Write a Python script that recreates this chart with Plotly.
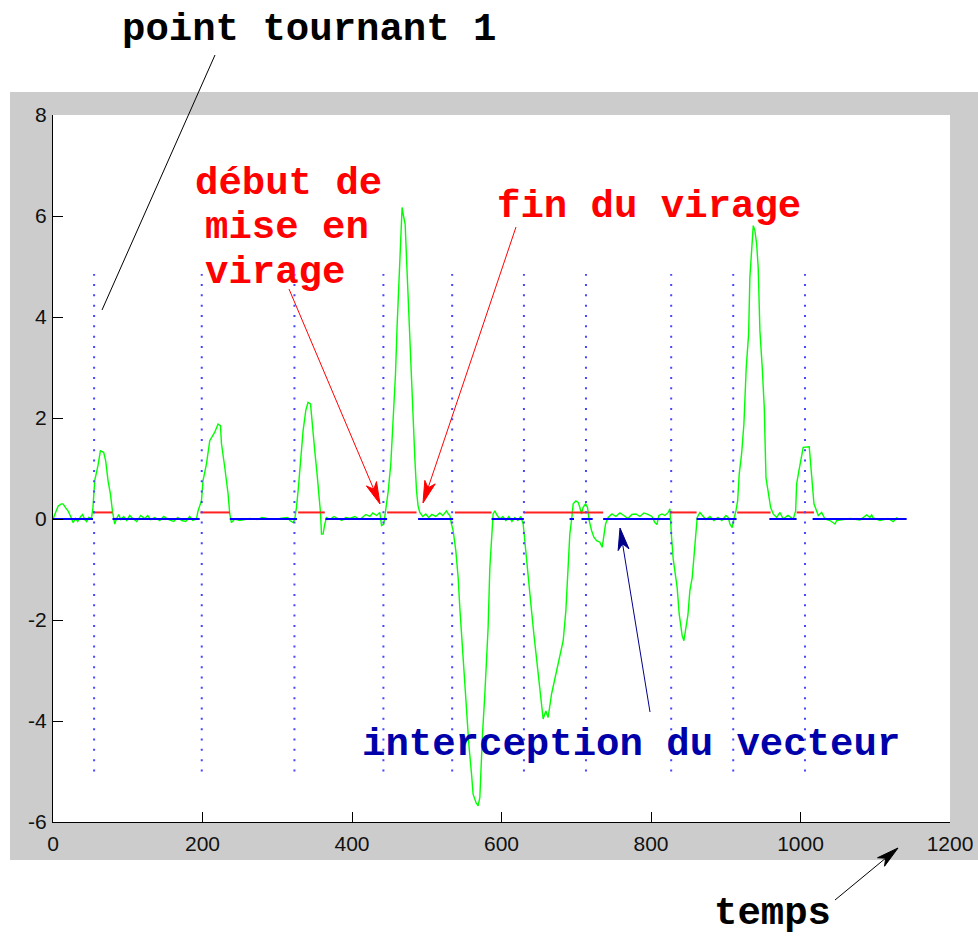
import math
import plotly.graph_objects as go

# ---------------- data ----------------
green_t = [
    0, 3.6, 7.0, 11.2, 13.4, 17.0, 20.1, 23.7, 26.8, 30.4,
    33.1, 37.1, 39.7, 42.4, 45.1, 47.8, 51.4, 53.5, 55.8, 60.2,
    63.4, 67.8, 70.5, 73.6, 76.8, 79.5, 82.6, 84.8, 87.9, 90.6,
    94.6, 98.6, 102.6, 106.7, 112.0, 117.4, 122.7, 126.7, 130.7, 136.1,
    142.8, 148.1, 154.8, 161.5, 166.9, 172.2, 177.6, 182.9, 186.9, 191.9,
    194.0, 198.6, 200.7, 205.3, 209.7, 216.4, 220.8, 224.0, 225.4, 229.8,
    234.2, 236.5, 238.7, 243.2, 249.8, 263.2, 273.9, 279.3, 290.0, 303.4,
    314.1, 316.8, 321.2, 323.4, 325.7, 327.9, 331.1, 334.6, 338.2, 341.2,
    344.5, 346.6, 350.2, 353.3, 356.0, 357.8, 359.2, 361.3, 363.6, 365.9,
    370.3, 375.7, 381.0, 386.4, 391.7, 397.1, 403.8, 410.5, 418.5, 423.9,
    427.9, 432.8, 437.2, 439.5, 442.5, 445.2, 448.3, 451.9, 455.0, 458.2,
    460.3, 462.6, 464.9, 467.0, 469.3, 471.1, 472.9, 474.7, 477.4, 479.6,
    481.8, 484.0, 486.3, 488.4, 490.7, 494.7, 498.7, 502.7, 506.8, 512.1,
    517.5, 521.5, 526.4, 528.9, 530.9, 533.1, 535.3, 538.9, 542.0, 544.2,
    546.5, 548.7, 551.0, 553.2, 556.3, 559.9, 562.0, 565.7, 568.7, 571.0,
    572.4, 574.6, 577.7, 580.0, 582.1, 584.4, 586.7, 588.8, 591.1, 594.2,
    597.8, 601.8, 605.8, 609.9, 613.9, 617.9, 621.9, 625.9, 629.0, 631.3,
    634.3, 637.0, 640.2, 643.3, 646.9, 650.4, 653.6, 655.7, 659.3, 662.4,
    666.9, 672.7, 678.1, 682.5, 686.1, 689.2, 691.4, 694.1, 695.9, 699.5,
    702.6, 704.8, 707.1, 709.2, 712.5, 715.1, 717.3, 720.5, 723.6, 727.2,
    731.6, 734.7, 737.0, 739.2, 742.7, 747.7, 753.0, 758.4, 763.7, 769.1,
    774.4, 779.8, 785.1, 790.5, 795.8, 801.2, 805.2, 807.9, 810.6, 814.6,
    818.6, 823.0, 825.3, 826.6, 827.5, 829.7, 832.7, 835.0, 837.7, 839.6,
    841.7, 844.0, 846.7, 849.4, 852.0, 855.1, 857.4, 859.7, 861.8, 865.4,
    869.0, 873.4, 878.8, 884.1, 889.5, 894.8, 900.2, 903.3, 905.6, 908.6,
    910.9, 913.6, 915.9, 918.0, 921.2, 924.3, 927.4, 930.6, 932.3, 934.6,
    936.8, 939.0, 941.3, 943.4, 945.7, 948.8, 951.5, 953.8, 956.8, 960.0,
    963.5, 968.1, 972.5, 976.9, 983.2, 990.3, 993.5, 994.8, 997.9, 1001.5,
    1003.6, 1011.7, 1013.5, 1016.2, 1018.0, 1021.6, 1023.8, 1028.3, 1032.7, 1039.4,
    1046.1, 1048.4, 1055.0, 1066.2, 1079.5, 1084.0, 1088.5, 1092.9, 1095.2, 1097.3,
    1104.0, 1106.3, 1117.0, 1124.1, 1128.6, 1130.8,
]
green_v = [
    0, 0.12, 0.26, 0.30, 0.30, 0.22, 0.16, 0.05, -0.07, 0.01,
    -0.05, 0.05, 0.09, -0.01, -0.05, 0.03, 0.01, 0.23, 0.76, 1.06,
    1.35, 1.32, 1.15, 0.76, 0.50, 0.16, -0.10, 0, 0.09, -0.01,
    0.05, -0.03, 0.07, 0.01, -0.05, 0.07, 0.01, 0.07, -0.01, 0.03,
    -0.03, 0.05, -0.01, -0.05, 0.03, -0.03, -0.05, 0.05, -0.03, 0,
    0.16, 0.36, 0.76, 1.09, 1.55, 1.72, 1.88, 1.85, 1.49, 1.02,
    0.50, 0.10, -0.07, 0, -0.03, 0.01, -0.01, 0.03, 0, 0.01,
    0.03, -0.03, -0.07, 0, 0.23, 0.56, 1.09, 1.75, 2.15, 2.31,
    2.28, 1.88, 1.35, 0.89, 0.50, 0.13, -0.30, -0.30, -0.10, 0.03,
    -0.01, 0.05, 0.01, -0.03, 0.03, 0.01, 0.05, -0.01, 0.09, 0.05,
    0.12, 0.07, 0.13, -0.13, -0.10, 0.16, 0.53, 1.09, 2.01, 2.87,
    3.80, 4.66, 5.38, 6.17, 5.97, 5.84, 5.18, 4.46, 3.66, 2.81,
    2.01, 1.22, 0.56, 0.26, 0.13, 0.05, 0.10, 0.03, 0.09, 0.05,
    0.12, 0.07, 0.16, 0.10, 0.07, -0.10, -0.23, -0.63, -1.16, -1.75,
    -2.28, -2.81, -3.40, -3.93, -4.46, -5.05, -5.45, -5.61, -5.68, -5.52,
    -4.99, -4.26, -3.47, -2.87, -2.15, -0.96, -0.30, 0.10, 0.16, 0.07,
    0, 0.05, -0.03, 0.05, -0.05, 0.03, -0.03, 0.05, -0.10, -0.43,
    -0.83, -1.36, -1.82, -2.28, -2.74, -3.27, -3.60, -3.96, -3.80, -3.93,
    -3.47, -3.07, -2.74, -2.41, -1.82, -0.96, -0.30, 0.03, 0.30, 0.36,
    0.33, 0.23, 0.10, 0.23, 0.30, 0.23, -0.03, -0.23, -0.36, -0.43,
    -0.46, -0.56, -0.30, -0.10, 0.03, 0.10, 0.05, 0.12, 0.07, 0.01,
    0.09, 0.10, 0.05, 0.12, 0.09, 0.05, -0.07, -0.11, 0.07, 0.10,
    0.07, 0.13, 0.20, -0.03, -0.36, -0.79, -1.12, -1.36, -1.88, -2.08,
    -2.31, -2.41, -2.15, -1.90, -1.42, -1.16, -0.76, -0.23, 0.03, 0.13,
    0.07, -0.01, 0.05, -0.03, 0.03, -0.03, 0.07, 0.03, -0.10, -0.17,
    0, 0.16, 0.36, 0.89, 1.29, 1.88, 3.00, 3.66, 4.79, 5.38,
    5.81, 5.71, 5.45, 4.98, 3.73, 3.00, 2.21, 0.82, 0.50, 0.23,
    0.10, 0.03, 0.13, 0, 0.07, 0, 0.16, 0.69, 0.96, 1.22,
    1.42, 1.43, 1.09, 0.76, 0.30, 0.16, 0.07, 0.13, 0, -0.03,
    -0.10, -0.03, -0.02, 0.01, -0.02, 0.03, 0.08, 0.03, 0.08, 0.02,
    -0.02, -0.03, 0.01, -0.05, 0.02, 0,
]
assert len(green_t) == len(green_v)

# turning points (vertical dotted markers)
turn_points = [55, 199, 323, 442, 534, 630, 713, 827, 910, 1006]
turn_low = -5.0
turn_high = 4.85

# straight-line phases (blue, level 0) and turning phases (red, raised level)
blue_start = [0, 79.5, 236.5, 364.5, 488.4, 586.7, 691, 707, 736, 861, 958.3, 1016.2]
blue_end = [53.5, 196.3, 326.5, 447, 535.3, 629.9, 697, 722, 825.3, 914.5, 994.8, 1142]
blue_level = 0.0
red_start = [53.5, 197.2, 327.9, 447, 537.6, 629.9, 825.3, 915.3, 994.8]
red_end = [79.5, 236.5, 363.6, 486.3, 586.7, 736, 861, 960, 1018]
red_level = 0.13

x_ticks = [0, 200, 400, 600, 800, 1000, 1200]
x_ticklabels = ["0", "200", "400", "600", "800", "1000", "1200"]
y_ticks = [-6, -4, -2, 0, 2, 4, 6, 8]
y_ticklabels = ["-6", "-4", "-2", "0", "2", "4", "6", "8"]

# ---------------- layout geometry ----------------
W, H = 978, 937
ML, MR, MT, MB = 53, 28, 115, 115
PW, PH = W - ML - MR, H - MT - MB


def paper_x(px):
    return (px - ML) / PW


def paper_y(py):
    return (H - MB - py) / PH


def segments(starts, ends, level):
    xs, ys = [], []
    for a, b in zip(starts, ends):
        xs += [a, b, None]
        ys += [level, level, None]
    return xs, ys


fig = go.Figure()

fig.add_trace(go.Scatter(x=green_t, y=green_v, mode="lines",
                         line=dict(color="#00ff00", width=1.4),
                         hoverinfo="skip", showlegend=False))

bx, by = segments(blue_start, blue_end, blue_level)
fig.add_trace(go.Scatter(x=bx, y=by, mode="lines",
                         line=dict(color="#0000ff", width=2),
                         hoverinfo="skip", showlegend=False))
rx, ry = segments(red_start, red_end, red_level)
fig.add_trace(go.Scatter(x=rx, y=ry, mode="lines",
                         line=dict(color="#ff2020", width=2),
                         hoverinfo="skip", showlegend=False))

vx, vy = [], []
for t in turn_points:
    vx += [t, t, None]
    vy += [turn_low, turn_high, None]
fig.add_trace(go.Scatter(x=vx, y=vy, mode="lines",
                         line=dict(color="rgb(70,70,255)", width=2, dash="2px,8.33px"),
                         hoverinfo="skip", showlegend=False))

shapes = [
    dict(type="rect", xref="paper", yref="paper",
         x0=paper_x(10), x1=paper_x(W + 2), y0=paper_y(860), y1=paper_y(92),
         fillcolor="#cccccc", line=dict(width=0), layer="below"),
    dict(type="rect", xref="paper", yref="paper", x0=0, x1=1, y0=0, y1=1,
         fillcolor="white", line=dict(width=0), layer="below"),
]


def arrow(tail, head, color, head_len=22, half_w=5.5, notch=6, with_head=True, width=1):
    (tx, ty), (hx, hy) = tail, head
    d = math.hypot(hx - tx, hy - ty)
    ux, uy = (hx - tx) / d, (hy - ty) / d
    nx, ny = -uy, ux
    if with_head:
        bx_, by_ = hx - ux * head_len, hy - uy * head_len
        kx, ky = hx - ux * (head_len - notch), hy - uy * (head_len - notch)
        end = (kx, ky)
    else:
        end = (hx, hy)
    shapes.append(dict(type="line", xref="paper", yref="paper",
                       x0=paper_x(tx), y0=paper_y(ty), x1=paper_x(end[0]), y1=paper_y(end[1]),
                       line=dict(color=color, width=width)))
    if with_head:
        pts = [(hx, hy), (bx_ + nx * half_w, by_ + ny * half_w), (kx, ky),
               (bx_ - nx * half_w, by_ - ny * half_w)]
        path = "M " + " L ".join(f"{paper_x(a):.5f},{paper_y(b):.5f}" for a, b in pts) + " Z"
        shapes.append(dict(type="path", xref="paper", yref="paper", path=path,
                           fillcolor=color, line=dict(color=color, width=1)))


arrow((215, 55), (102, 310), "black", with_head=False)
arrow((289, 289), (380, 504), "#ff0000")
arrow((516, 227), (423, 503), "#ff0000")
arrow((650, 712), (620, 528), "#00008b")
arrow((835, 900), (898, 848), "black")

FS = 39
MONO = "Liberation Mono, Courier New, monospace"


def label(text, left, baseline, color):
    return dict(text=f"<b>{text}</b>", xref="paper", yref="paper",
                x=paper_x(left - 1), y=paper_y(baseline - 0.2665 * FS),
                xanchor="left", yanchor="middle", showarrow=False, borderpad=0,
                font=dict(family=MONO, size=FS, color=color))


annotations = [
    label("point tournant 1", 122, 40, "black"),
    label("début de", 195, 194.5, "#ff0000"),
    label("mise en", 205, 238.8, "#ff0000"),
    label("virage", 205, 283.1, "#ff0000"),
    label("fin du virage", 497, 217, "#ff0000"),
    label("interception du vecteur", 362, 755, "#0000aa"),
    label("temps", 714, 924, "black"),
]

axis_common = dict(showgrid=False, zeroline=False, showline=True, linecolor="black",
                   linewidth=1, ticks="inside", ticklen=10, tickwidth=1, tickcolor="black",
                   tickfont=dict(family="Liberation Sans, Arial, sans-serif", size=21, color="#111111"),
                   mirror=False, automargin=False)

fig.update_layout(
    width=W, height=H,
    margin=dict(l=ML, r=MR, t=MT, b=MB, pad=0, autoexpand=False),
    paper_bgcolor="white", plot_bgcolor="white",
    showlegend=False,
    shapes=shapes,
    annotations=annotations,
    xaxis=dict(range=[0, 1200], tickvals=x_ticks, ticktext=x_ticklabels,
               ticklabelstandoff=3, **axis_common),
    yaxis=dict(range=[-6, 8], tickvals=y_ticks, ticktext=y_ticklabels,
               ticklabelstandoff=1, **axis_common),
)

fig.write_html("out.html", config={"displayModeBar": False},
               post_script="document.body.style.margin='0px';document.body.style.overflow='hidden';")
